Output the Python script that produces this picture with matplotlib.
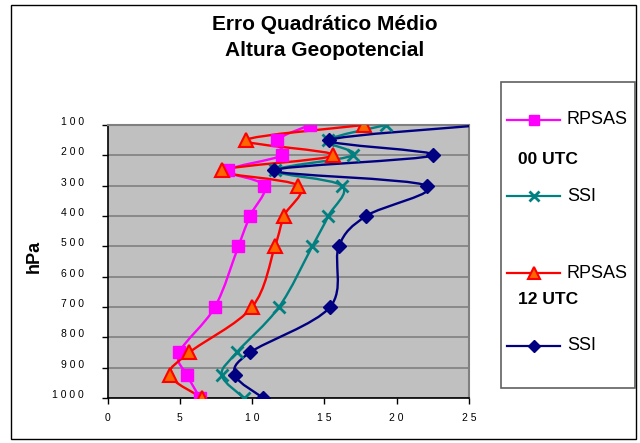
import matplotlib
matplotlib.use("Agg")
import matplotlib.pyplot as plt
from matplotlib.path import Path
from matplotlib.patches import PathPatch, Rectangle
from matplotlib.lines import Line2D
import numpy as np

plt.rcParams['font.family'] = ['Liberation Sans', 'DejaVu Sans']

# ---- data ----
levels = [100, 150, 200, 250, 300, 400, 500, 700, 850, 925, 1000]
rpsas_00 = [14.0, 11.7, 12.05, 8.35, 10.85, 9.85, 9.05, 7.43, 4.97, 5.52, 6.4]
ssi_00 = [19.26, 15.27, 16.96, 11.6, 16.2, 15.27, 14.16, 11.86, 8.93, 7.9, 9.44]
rpsas_12 = [17.74, 9.56, 15.6, 7.9, 13.2, 12.2, 11.58, 10.0, 5.66, 4.32, 6.56]
ssi_12 = [26.0, 15.34, 22.49, 11.53, 22.07, 17.88, 16.0, 15.39, 9.85, 8.82, 10.77]

y_ticks = [100, 200, 300, 400, 500, 600, 700, 800, 900, 1000]
y_tick_labels = ['1 0 0', '2 0 0', '3 0 0', '4 0 0', '5 0 0', '6 0 0', '7 0 0', '8 0 0', '9 0 0', '1 0 0 0']
x_ticks = [0, 5, 10, 15, 20, 25]
x_tick_labels = ['0', '5', '1 0', '1 5', '2 0', '2 5']

title_lines = ['Erro Quadrático Médio', 'Altura Geopotencial']
y_label = 'hPa'

W, H = 640, 443
fig = plt.figure(figsize=(W / 100, H / 100), dpi=100)

def fx(x):
    return x / W

def fy(y):
    return 1 - y / H

ax = fig.add_axes([fx(107.5), fy(398), (469 - 107.5) / W, (398 - 125) / H])
ax.set_facecolor('#C0C0C0')
ax.set_xlim(0, 25)
ax.set_ylim(1000, 100)

ax.set_yticks(y_ticks)
ax.set_yticklabels(y_tick_labels, fontsize=7.5)
ax.set_xticks(x_ticks)
ax.set_xticklabels(x_tick_labels, fontsize=7.5)
ax.tick_params(axis='both', direction='out', length=4, width=1, color='black')
ax.tick_params(axis='y', pad=13)
ax.tick_params(axis='x', pad=7)
for lab in ax.get_yticklabels():
    lab.set_verticalalignment('baseline')
ax.yaxis.grid(True, color='#808080', lw=1.2)
ax.set_axisbelow(True)
for s in ['left', 'bottom']:
    ax.spines[s].set_color('black')
    ax.spines[s].set_linewidth(1.2)
for s in ['top', 'right']:
    ax.spines[s].set_color('#808080')
    ax.spines[s].set_linewidth(1.5)


def smooth_path(xs, ys):
    P = np.column_stack([xs, ys]).astype(float)
    n = len(P)
    verts = [P[0]]
    codes = [Path.MOVETO]
    for i in range(n - 1):
        p0 = P[i - 1] if i > 0 else P[i]
        p1 = P[i]
        p2 = P[i + 1]
        p3 = P[i + 2] if i + 2 < n else P[i + 1]
        c1 = p1 + (p2 - p0) / 6.0
        c2 = p2 - (p3 - p1) / 6.0
        verts += [c1, c2, p2]
        codes += [Path.CURVE4] * 3
    return Path(verts, codes)


series = [
    (rpsas_00, '#FF00FF', dict(marker='s', ms=9, mfc='#FF00FF', mec='#FF00FF', mew=1)),
    (ssi_00, '#008080', dict(marker='x', ms=8.5, mfc='#008080', mec='#008080', mew=2)),
    (rpsas_12, '#FF0000', dict(marker='^', ms=9.5, mfc='#FF6600', mec='#FF0000', mew=1.5)),
    (ssi_12, '#000080', dict(marker='D', ms=7.5, mfc='#000080', mec='#000080', mew=1)),
]

for vals, col, mk in series:
    patch = PathPatch(smooth_path(vals, levels), facecolor='none', edgecolor=col, lw=1.7, zorder=3)
    ax.add_patch(patch)
    ax.plot(vals, levels, linestyle='none', zorder=4, **mk)

# Title
fig.text(fx(325), fy(24), title_lines[0], ha='center', va='center', fontsize=15, fontweight='bold')
fig.text(fx(325), fy(50), title_lines[1], ha='center', va='center', fontsize=15, fontweight='bold')

# y label
fig.text(fx(34), fy(256), y_label, rotation=90, ha='center', va='center', fontsize=13, fontweight='bold')

# outer frame
fig.patches.append(Rectangle((fx(11), fy(439)), (636 - 11) / W, (439 - 5) / H,
                             transform=fig.transFigure, fill=False, edgecolor='black', lw=1))

# legend box
fig.patches.append(Rectangle((fx(501), fy(388)), (635 - 501) / W, (388 - 82) / H,
                             transform=fig.transFigure, fill=False, edgecolor='#606060', lw=1.2))

legend_rows = [
    (120, 'RPSAS', series[0]),
    (196, 'SSI', series[1]),
    (273, 'RPSAS', series[2]),
    (346, 'SSI', series[3]),
]
for yy, lab, (vals, col, mk) in legend_rows:
    fig.lines.append(Line2D([fx(507), fx(560)], [fy(yy), fy(yy)], transform=fig.transFigure,
                            color=col, lw=1.6))
    mk2 = dict(mk)
    mk2['ms'] = mk['ms'] * 0.85
    fig.lines.append(Line2D([fx(533.5)], [fy(yy)], transform=fig.transFigure,
                            linestyle='none', **mk2))
    fig.text(fx(567), fy(yy), lab, ha='left', va='center', fontsize=13)

fig.text(fx(518), fy(160), '00 UTC', ha='left', va='center', fontsize=12.5, fontweight='bold')
fig.text(fx(518), fy(300), '12 UTC', ha='left', va='center', fontsize=12.5, fontweight='bold')

fig.savefig('out.png', dpi=100)
